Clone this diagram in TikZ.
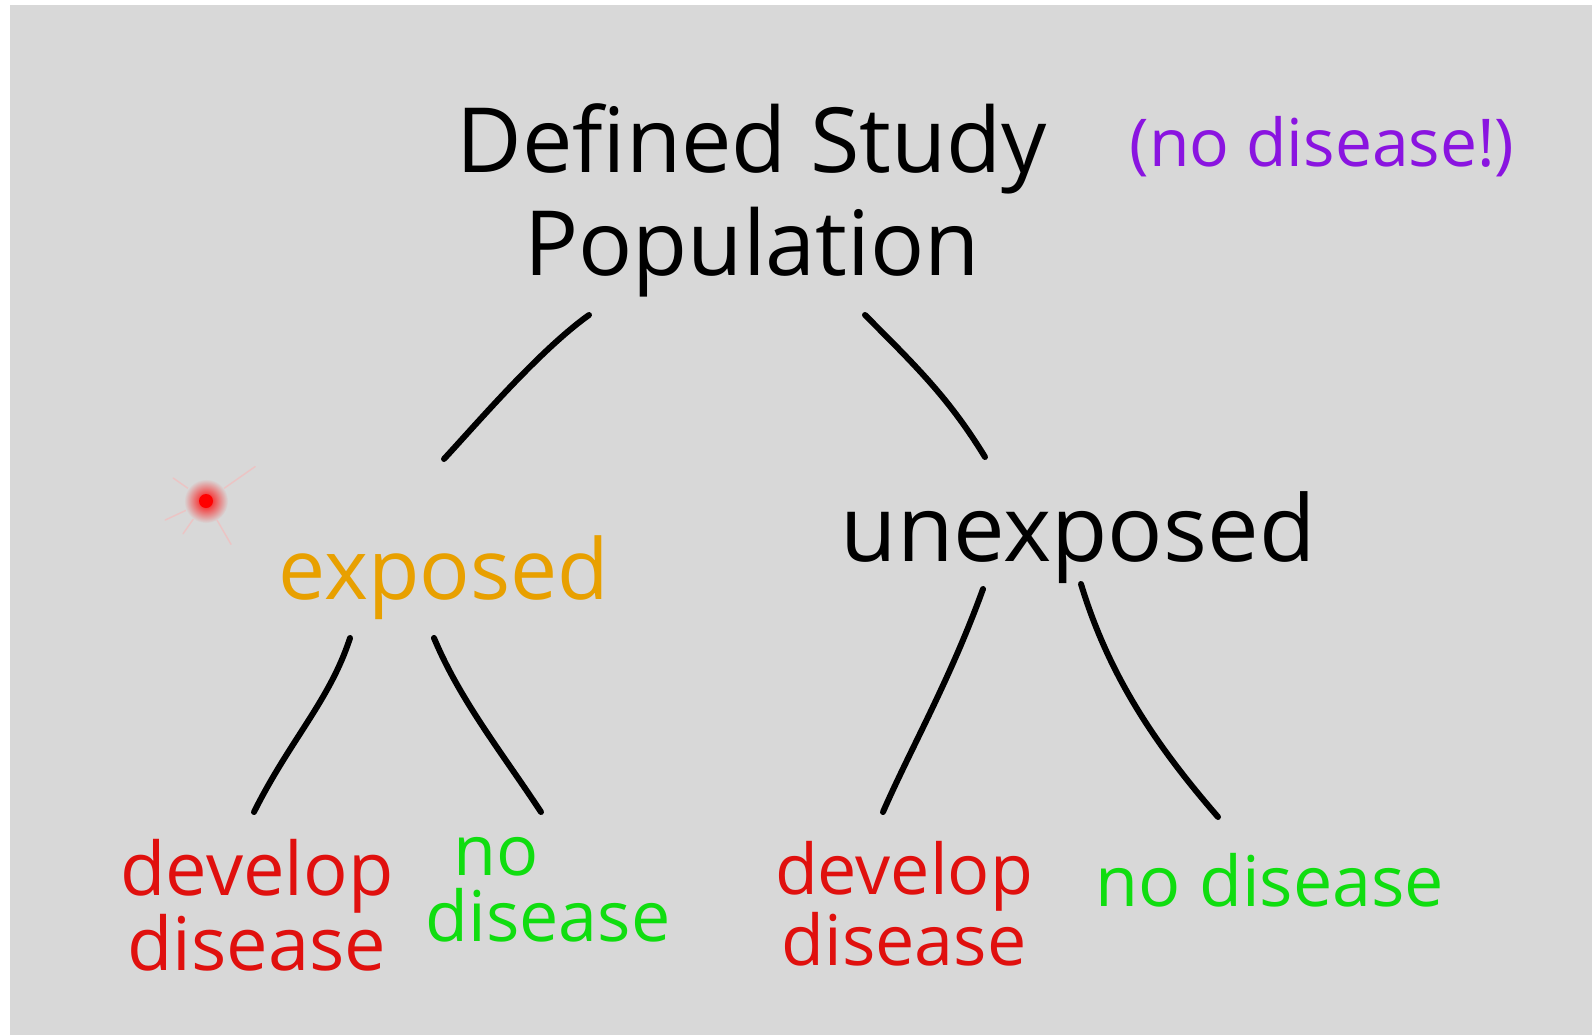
\documentclass[tikz,border=0pt]{standalone}
\usepackage{fontspec}
\setmainfont{Open Sans}
\usetikzlibrary{calc}
\definecolor{board}{HTML}{D8D8D8}
\definecolor{inkred}{HTML}{E0100E}
\definecolor{inkgreen}{HTML}{10DD10}
\definecolor{inkorange}{HTML}{E8A000}
\definecolor{inkpurple}{HTML}{8A14E0}
\tikzset{
  label/.style={inner sep=0pt, align=center},
  big/.style={label, font=\fontsize{90}{103}\selectfont},
  small/.style={label, font=\fontsize{70}{66}\selectfont},
  branch/.style={line width=6pt, line cap=round, black},
}
\begin{document}
\begin{tikzpicture}[x=1pt,y=-1pt]
  % canvas with thin white margin on the left and top
  \useasboundingbox (0,0) rectangle (1592,1035);
  \fill[white] (0,0) rectangle (1592,1035);
  \fill[board] (10,5) rectangle (1592,1035);

  % labels
  \node[big] (root) at (752,200) {Defined Study\\Population};
  \node[label, font=\fontsize{66}{66}\selectfont, text=inkpurple] (note) at (1322,147) {(no disease!)};
  \node[label, font=\fontsize{84}{84}\selectfont, text=inkorange] (exp) at (444,578) {exposed};
  \node[label, font=\fontsize{92}{92}\selectfont] (unexp) at (1078,538) {unexposed};
  \node[label, font=\fontsize{74}{70}\selectfont, text=inkred] (ld) at (257,905) {develop\\disease};
  \node[small, text=inkgreen, align=left] (ln) at (548,890) {\hspace*{0.4em}no\\disease};
  \node[small, text=inkred] (rd) at (904,904) {develop\\disease};
  \node[small, text=inkgreen] (rn) at (1270,880) {no disease};

  % branch end points
  \coordinate (a1) at (589,315); \coordinate (a2) at (444,459);
  \coordinate (b1) at (865,315); \coordinate (b2) at (985,457);
  \coordinate (c1) at (350,638); \coordinate (c2) at (254,812);
  \coordinate (d1) at (434,638); \coordinate (d2) at (541,812);
  \coordinate (e1) at (983,589); \coordinate (e2) at (883,812);
  \coordinate (f1) at (1081,584); \coordinate (f2) at (1218,817);

  % branches
  \draw[branch] (a1) .. controls (540,350) and (480,420) .. (a2);
  \draw[branch] (b1) .. controls (920,370) and (950,400) .. (b2);
  \draw[branch] (c1) .. controls (330,700) and (290,740) .. (c2);
  \draw[branch] (d1) .. controls (460,700) and (500,750) .. (d2);
  \draw[branch] (e1) .. controls (950,680) and (910,750) .. (e2);
  \draw[branch] (f1) .. controls (1110,680) and (1160,750) .. (f2);

  % pointer spot
  \foreach \ang/\len in {-35/60,155/45,215/40,125/40,60/50}
    \draw[red!30, line width=1.5pt, line cap=round, opacity=0.5] (206,501) -- ++(\ang:\len);
  \shade[inner color=red, outer color=board] (206,501) circle (22);
  \fill[red] (206,501) circle (7);
\end{tikzpicture}
\end{document}
